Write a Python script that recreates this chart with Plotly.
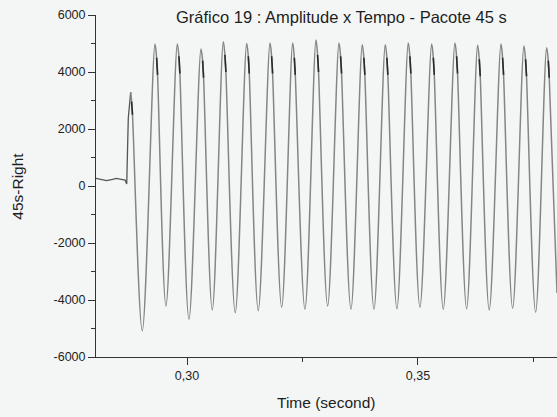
import plotly.graph_objects as go

# ---- data ----
# pre-onset baseline and the onset spike (time in s, amplitude)
onset_t = [0.28030, 0.28210, 0.28260, 0.28390, 0.28470, 0.28660, 0.28695, 0.28729, 0.28751, 0.28781]
onset_v = [270, 200, 186, 230, 270, 210, 70, 2375, 2912, 3298]

# positive peaks of the oscillation
peak_t = [0.28781, 0.29307, 0.29790, 0.30303, 0.30786, 0.31292, 0.31797, 0.32288,
          0.32792, 0.33290, 0.33794, 0.34292, 0.34790, 0.35297, 0.35801, 0.36292,
          0.36797, 0.37294, 0.37786]
peak_v = [3298, 4982, 4982, 4807, 5063, 5000, 5018, 5018,
          5123, 5018, 4958, 4958, 5018, 4982, 5018, 4937,
          4982, 4912, 4853]

# negative troughs of the oscillation (last value = where the curve leaves the frame)
trough_t = [0.29032, 0.29545, 0.30043, 0.30548, 0.31045, 0.31543, 0.32050, 0.32554,
            0.33045, 0.33550, 0.34048, 0.34545, 0.35043, 0.35548, 0.36054, 0.36543,
            0.37050, 0.37548, 0.38010]
trough_v = [-5077, -4211, -4677, -4351, -4446, -4375, -4256, -4326,
            -4211, -4326, -4326, -4309, -4256, -4326, -4305, -4351,
            -4291, -4432, -3754]

# small dark notches on the falling side just after each peak (start / end)
notch_t0 = [0.28801, 0.29342, 0.29825, 0.30338, 0.30821, 0.31327, 0.31832, 0.32323,
            0.32827, 0.33325, 0.33829, 0.34327, 0.34825, 0.35332, 0.35836, 0.36327,
            0.36832, 0.37329, 0.37821]
notch_v0 = [2960, 4500, 4550, 4400, 4600, 4550, 4550, 4500,
            4600, 4550, 4500, 4500, 4550, 4500, 4550, 4450,
            4500, 4450, 4400]
notch_t1 = [0.28820, 0.29363, 0.29846, 0.30359, 0.30842, 0.31348, 0.31853, 0.32344,
            0.32848, 0.33346, 0.33850, 0.34348, 0.34846, 0.35353, 0.35857, 0.36348,
            0.36853, 0.37350, 0.37842]
notch_v1 = [2500, 3900, 3950, 3800, 4000, 3950, 3950, 3900,
            4000, 3950, 3900, 3900, 3950, 3900, 3950, 3850,
            3900, 3850, 3800]

y_ticks = [-6000, -4000, -2000, 0, 2000, 4000, 6000]
y_ticktext = ["-6000", "-4000", "-2000", "0", "2000", "4000", "6000"]
y_minor = [-5000, -3000, -1000, 1000, 3000, 5000]
x_ticks = [0.30, 0.35]
x_ticktext = ["0,30", "0,35"]
x_minor = [0.325, 0.375]

title_text = "Gráfico 19 : Amplitude x Tempo - Pacote 45 s"
x_title = "Time (second)"
y_title = "45s-Right"

# merge all read points in time order for the oscillation trace
wave = sorted(zip(peak_t + trough_t + notch_t0 + notch_t1,
                  peak_v + trough_v + notch_v0 + notch_v1))
wave_t = [p[0] for p in wave]
wave_v = [p[1] for p in wave]

notch_x, notch_y = [], []
for a, b, c, d in zip(notch_t0, notch_v0, notch_t1, notch_v1):
    notch_x += [a, c, None]
    notch_y += [b, d, None]

LINE = "#858585"
BG = "#f4f6f6"
TXT = "#1e1e1e"
FONT = "Liberation Sans, Arial, sans-serif"

fig = go.Figure()
fig.add_trace(go.Scatter(x=onset_t, y=onset_v, mode="lines",
                         line=dict(color="#555555", width=1.3), showlegend=False,
                         hoverinfo="skip"))
fig.add_trace(go.Scatter(x=wave_t, y=wave_v, mode="lines",
                         line=dict(color=LINE, width=1.5, shape="spline", smoothing=1.0),
                         showlegend=False, hoverinfo="skip"))
fig.add_trace(go.Scatter(x=notch_x, y=notch_y, mode="lines",
                         line=dict(color="#2a2a2a", width=1.6),
                         showlegend=False, hoverinfo="skip"))

axis_common = dict(showgrid=False, zeroline=False, showline=True, linecolor="#333333",
                   linewidth=1, ticks="outside", tickcolor="#333333", tickwidth=1,
                   ticklen=7, tickfont=dict(family=FONT, size=12.5, color=TXT))

fig.update_xaxes(range=[0.2803, 0.3801], tickmode="array", tickvals=x_ticks,
                 ticktext=x_ticktext,
                 minor=dict(tickmode="array", tickvals=x_minor, ticks="outside",
                            ticklen=4, tickcolor="#333333", tickwidth=1),
                 **axis_common)
fig.update_yaxes(range=[-6000, 6000], tickmode="array", tickvals=y_ticks,
                 ticktext=y_ticktext,
                 minor=dict(tickmode="array", tickvals=y_minor, ticks="outside",
                            ticklen=4, tickcolor="#333333", tickwidth=1),
                 **axis_common)

fig.update_layout(
    width=557, height=417, autosize=False,
    margin=dict(l=96, r=0, t=15, b=60, pad=0),
    paper_bgcolor=BG, plot_bgcolor=BG,
    font=dict(family=FONT, color=TXT),
    annotations=[
        dict(text=title_text, xref="paper", yref="paper", x=0.5315, y=0.9927,
             xanchor="center", yanchor="middle", showarrow=False,
             font=dict(family=FONT, size=16.5, color=TXT)),
        dict(text=x_title, xref="paper", yref="paper", x=0.499, y=-0.133,
             xanchor="center", yanchor="middle", showarrow=False,
             font=dict(family=FONT, size=15.5, color=TXT)),
        dict(text=y_title, xref="paper", yref="paper", x=-0.172, y=0.5,
             xanchor="center", yanchor="middle", showarrow=False, textangle=-90,
             font=dict(family=FONT, size=15.5, color=TXT)),
    ],
)

fig.write_html("out.html")
